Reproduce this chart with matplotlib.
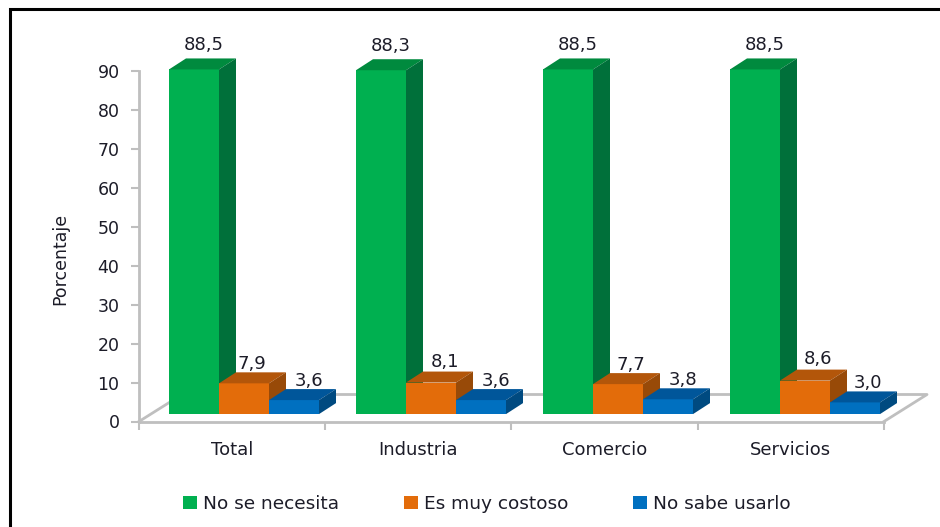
import matplotlib
matplotlib.use("Agg")
import matplotlib.pyplot as plt
from matplotlib.patches import Polygon, Patch
from matplotlib.lines import Line2D

plt.rcParams['font.family'] = ['DejaVu Sans']

categories = ['Total', 'Industria', 'Comercio', 'Servicios']
series_names = ['No se necesita', 'Es muy costoso', 'No sabe usarlo']
no_necesita = [88.5, 88.3, 88.5, 88.5]
costoso = [7.9, 8.1, 7.7, 8.6]
no_sabe = [3.6, 3.6, 3.8, 3.0]
labels_no_necesita = ['88,5', '88,3', '88,5', '88,5']
labels_costoso = ['7,9', '8,1', '7,7', '8,6']
labels_no_sabe = ['3,6', '3,6', '3,8', '3,0']
yticks = list(range(0, 100, 10))

W, H = 940, 527
fig = plt.figure(figsize=(W / 100, H / 100), dpi=100, facecolor='white')
L, R, T, B = 139, 884, 71, 421.5
ax = fig.add_axes([L / W, 1 - B / H, (R - L) / W, (B - T) / H])
ax.set_xlim(0, 4)
ax.set_ylim(0, 90)
ax.patch.set_visible(False)

GRAY = '#bfbfbf'
INK = '#1c1c28'
px_x = 4 / (R - L)
px_y = 90 / (B - T)
dx, dy = 17 * px_x, 11 * px_y
bar_w = 50 * px_x
start = 30 * px_x
step = 187 * px_x
base = 1.9

# floor
fx, fy = 43 * px_x, 27 * px_y
ax.add_line(Line2D([0, fx, 4 + fx, 4], [0, fy, fy, 0], color=GRAY, lw=2, clip_on=False, zorder=1))

colors = [('#00B050', '#008A3E', '#00703A'),
          ('#E36C0A', '#B3560A', '#984A08'),
          ('#0070C0', '#00569A', '#004A80')]
all_vals = [no_necesita, costoso, no_sabe]
all_labels = [labels_no_necesita, labels_costoso, labels_no_sabe]
lab_dx = [[10, 10, 10, 10], [8, 14, 13, 13], [15, 15, 15, 13]]
lab_dy = [[13, 13, 13, 13], [8, 10, 8, 11], [8, 8, 8, 8]]

z = 3
for i in range(len(categories)):
    for s, vals in enumerate(all_vals):
        x0 = i * step + start + s * bar_w
        top = base + vals[i]
        front, topc, side = colors[s]
        ax.bar(x0, vals[i], bar_w, bottom=base, align='edge', color=front, lw=0, zorder=z, clip_on=False)
        ax.add_patch(Polygon([(x0, top), (x0 + dx, top + dy), (x0 + bar_w + dx, top + dy), (x0 + bar_w, top)],
                             closed=True, fc=topc, lw=0, zorder=z, clip_on=False))
        ax.add_patch(Polygon([(x0 + bar_w, base), (x0 + bar_w + dx, base + dy), (x0 + bar_w + dx, top + dy), (x0 + bar_w, top)],
                             closed=True, fc=side, lw=0, zorder=z, clip_on=False))
        ax.text(x0 + bar_w / 2 + lab_dx[s][i] * px_x, top + dy + lab_dy[s][i] * px_y, all_labels[s][i],
                ha='center', va='center', fontsize=13, color=INK, zorder=10, clip_on=False)
        z += 1

for sp in ['top', 'right']:
    ax.spines[sp].set_visible(False)
for sp in ['left', 'bottom']:
    ax.spines[sp].set_color(GRAY)
    ax.spines[sp].set_linewidth(2)

ax.set_yticks(yticks)
ax.set_xticks(range(5))
ax.set_xticklabels([])
ax.set_xticks([i + 0.5 for i in range(4)], minor=True)
ax.set_xticklabels(categories, minor=True, fontsize=13, color=INK)
ax.tick_params(axis='x', which='minor', length=0, pad=14)
ax.tick_params(axis='x', which='major', length=6, width=1.5, color=GRAY)
ax.tick_params(axis='y', length=6, width=1.5, color=GRAY, labelsize=12.5, labelcolor=INK, pad=8)

fig.text(60 / W, 1 - 259 / H, 'Porcentaje', rotation=90, ha='center', va='center', fontsize=12.5, color=INK)

handles = [Patch(fc=c[0], lw=0) for c in colors]
fs = 13.3
pxfs = fs * 100 / 72
fig.legend(handles, series_names, ncol=3, loc='center left', bbox_to_anchor=(183 / W, 1 - 504 / H),
           frameon=False, fontsize=fs, labelcolor=INK, handlelength=14 / pxfs, handleheight=13 / pxfs,
           handletextpad=6 / pxfs, columnspacing=65 / pxfs, borderaxespad=0, borderpad=0)

# black frame
fig.add_artist(Line2D([9.5 / W, 9.5 / W, 1], [0, 1 - 8.5 / H, 1 - 8.5 / H], color='black', lw=2.2, solid_joinstyle='miter'))

fig.savefig('out.png', dpi=100)
